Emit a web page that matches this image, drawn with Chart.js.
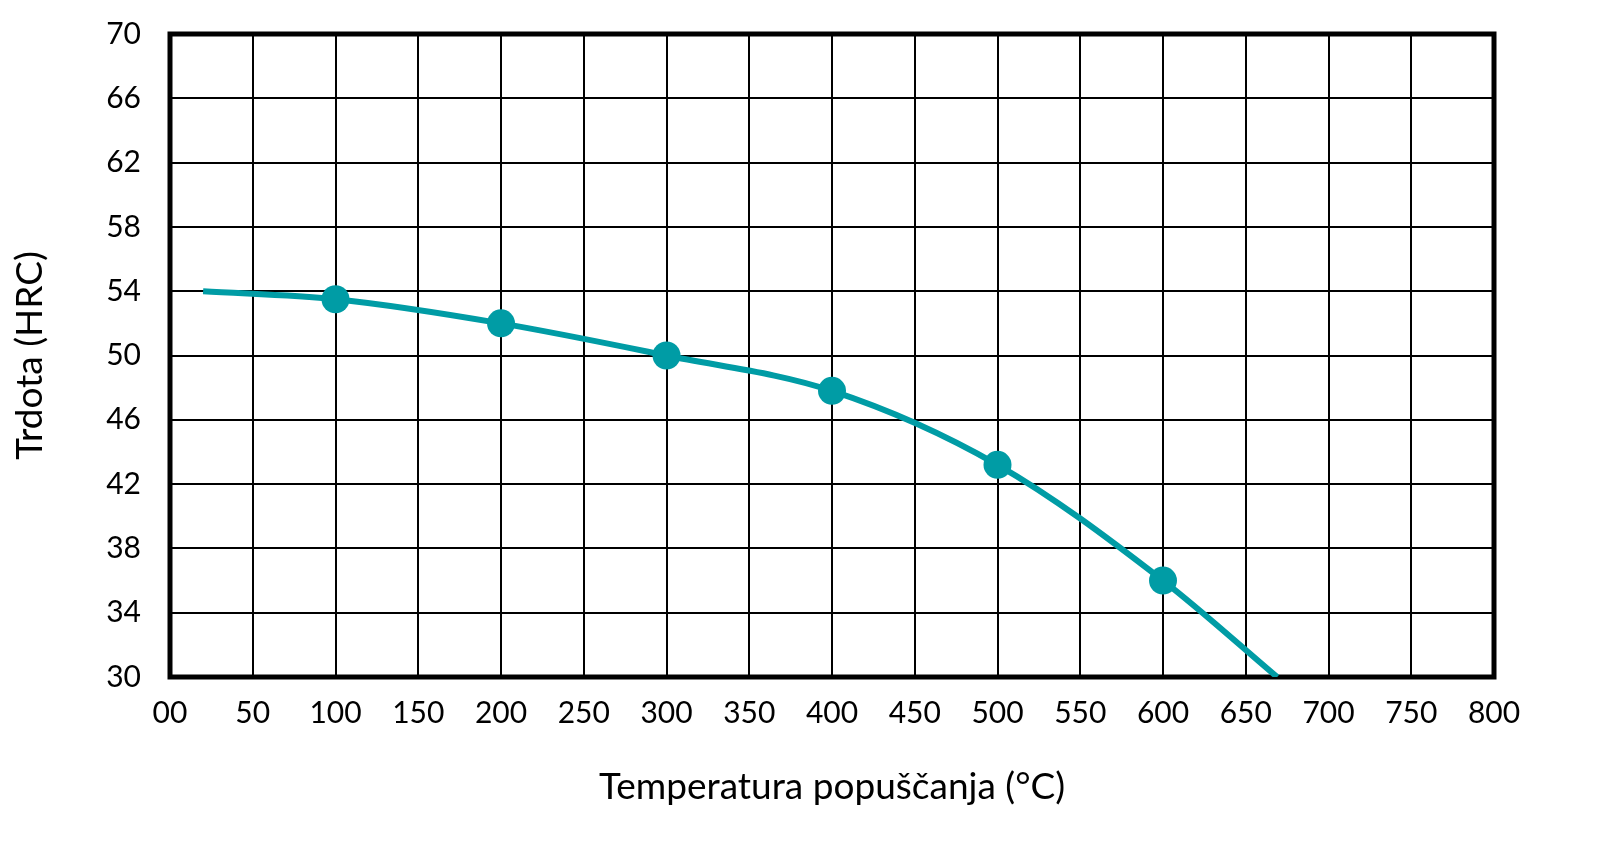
<!DOCTYPE html>
<html>
<head>
<meta charset="utf-8">
<script src="https://cdn.jsdelivr.net/npm/chart.js@4"></script>
<style>
  html, body { margin: 0; padding: 0; background: #fff; }
  #wrap { width: 1621px; height: 862px; }
</style>
</head>
<body>
<div id="wrap"><canvas id="hardnessChart"></canvas></div>
<script>
const temperatures = [20, 100, 200, 300, 400, 500, 600, 669];
const hardness = [54, 53.5, 52, 50, 47.8, 43.2, 36, 30];
const markerRadius = [0, 14, 14, 14, 14, 14, 14, 0];
const xTickLabels = ["00", "50", "100", "150", "200", "250", "300", "350", "400",
  "450", "500", "550", "600", "650", "700", "750", "800"];

const teal = "#009ca5";
const fontFamily = "Lato, 'Open Sans', sans-serif";

const frame = {
  id: "frame",
  beforeDatasetsDraw(chart) {
    const { ctx, chartArea } = chart;
    ctx.save();
    ctx.strokeStyle = "#000";
    ctx.lineWidth = 5;
    ctx.strokeRect(chartArea.left, chartArea.top,
      chartArea.right - chartArea.left, chartArea.bottom - chartArea.top);
    ctx.restore();
  },
};

const ctx = document.getElementById("hardnessChart").getContext("2d");

const hardnessChart = new Chart(ctx, {
  type: "line",
  data: {
    datasets: [
      {
        data: temperatures.map((t, i) => ({ x: t, y: hardness[i] })),
        borderColor: teal,
        backgroundColor: teal,
        borderWidth: 6,
        pointRadius: markerRadius,
        pointBorderWidth: 0,
        cubicInterpolationMode: "monotone",
        fill: false,
      },
    ],
  },
  options: {
    responsive: true,
    maintainAspectRatio: false,
    animation: false,
    plugins: {
      legend: { display: false },
      tooltip: { enabled: false },
    },
    layout: {
      padding: { top: 34, right: 127, left: 0, bottom: 0 },
    },
    scales: {
      x: {
        type: "linear",
        min: 0,
        max: 800,
        afterFit(scale) {
          scale.height = 185;
        },
        grid: { color: "#000", lineWidth: 2, drawTicks: false },
        border: { color: "#000", width: 2 },
        ticks: {
          stepSize: 50,
          padding: 18,
          color: "#000",
          font: { family: fontFamily, size: 30 },
          maxRotation: 0,
          callback: (value) => xTickLabels[value / 50],
        },
        title: {
          display: true,
          text: "Temperatura popuščanja (°C)",
          color: "#000",
          font: { family: fontFamily, size: 37 },
          padding: { top: 0, bottom: 53 },
        },
      },
      y: {
        type: "linear",
        min: 30,
        max: 70,
        afterFit(scale) {
          scale.width = 170;
        },
        // transparent tick marks push the labels away from the axis
        grid: { color: "#000", lineWidth: 2, drawTicks: true, tickLength: 29, tickColor: "rgba(0,0,0,0)" },
        border: { color: "#000", width: 2 },
        ticks: {
          stepSize: 4,
          padding: 0,
          color: "#000",
          font: { family: fontFamily, size: 30 },
        },
        title: {
          display: true,
          text: "Trdota (HRC)",
          color: "#000",
          font: { family: fontFamily, size: 37 },
          padding: { top: 8, bottom: 0 },
        },
      },
    },
  },
  plugins: [frame],
});
</script>
</body>
</html>
